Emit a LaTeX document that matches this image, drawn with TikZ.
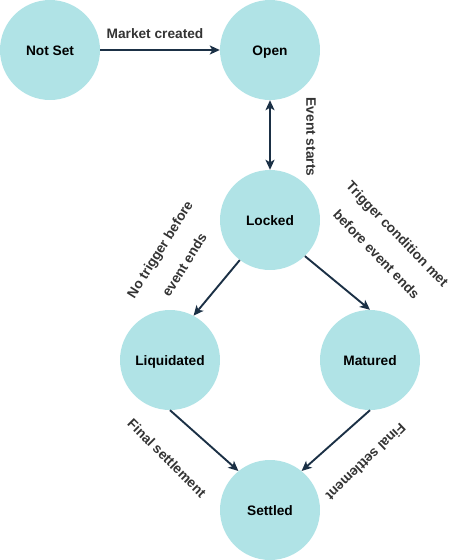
\documentclass[tikz,border=0pt]{standalone}
\usepackage{fontspec}
\setmainfont{Liberation Sans}
\usetikzlibrary{arrows.meta}
\definecolor{fillc}{HTML}{B0E3E6}
\definecolor{arrc}{HTML}{1B3045}
\definecolor{labc}{HTML}{333333}
\tikzset{
  state/.style={circle, fill=fillc, minimum size=100pt, inner sep=0pt, text height=11.5pt, text depth=0pt, font=\fontsize{13.7}{16}\selectfont\bfseries, text=black},
  conn/.style={draw=arrc, line width=1.9pt, -{Stealth[length=10pt,width=9pt,inset=2.5pt]}},
  elabel/.style={font=\fontsize{13.7}{29}\selectfont\bfseries, text=labc, align=center, inner sep=0pt}
}
\begin{document}
\begin{tikzpicture}[x=1pt,y=-1pt]
\useasboundingbox (0,0) rectangle (462,560);
\node[state] (notset) at (50,50) {Not Set};
\node[state] (open) at (270,50) {Open};
\node[state] (locked) at (270,220) {Locked};
\node[state] (liq) at (170,360) {Liquidated};
\node[state] (mat) at (370,360) {Matured};
\node[state] (set) at (270,510) {Settled};

\draw[conn] (notset) -- (open);
\draw[conn, {Stealth[length=10pt,width=9pt,inset=2.5pt]}-{Stealth[length=10pt,width=9pt,inset=2.5pt]}] (open) -- (locked);
\draw[conn] (locked.-127) -- (liq.62);
\draw[conn] (locked.-46) -- (mat.90);
\draw[conn] (liq.-90) -- (set.129);
\draw[conn] (mat.-90) -- (set.51);

\node[elabel] (l1) at (155,34) {Market created};
\node[elabel, rotate=-90] (l2) at (311,137) {Event starts};
\node[elabel, rotate=-46] (l3) at (387,244) {Trigger condition met\\before event ends};
\node[elabel, rotate=58] (l4) at (172,257) {No trigger before\\event ends};
\node[elabel, rotate=-45] (l5) at (167,458) {Final settlement};
\node[elabel, rotate=-136] (l6) at (366,462) {Final settlement};
\end{tikzpicture}
\end{document}
